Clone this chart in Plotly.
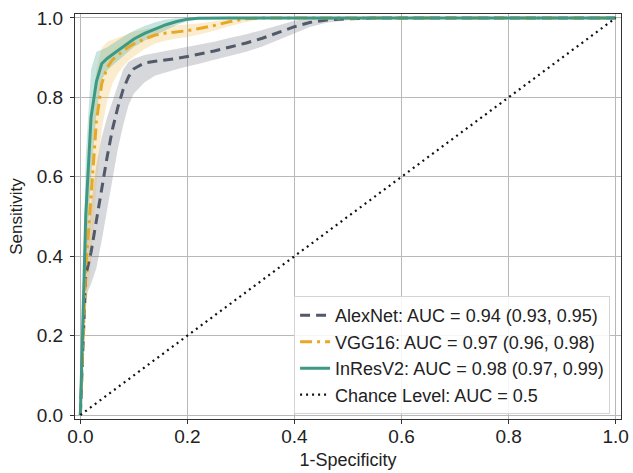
import plotly.graph_objects as go

# False positive rate grid (1-Specificity)
fpr = [0, 0.01, 0.02, 0.03, 0.04, 0.05, 0.06, 0.07, 0.08, 0.09, 0.10, 0.12, 0.14, 0.16,
       0.18, 0.20, 0.22, 0.25, 0.28, 0.31, 0.34, 0.37, 0.40, 0.43, 0.46, 0.50, 0.55, 0.60,
       0.70, 0.80, 0.90, 1.00]

alex_mean = [0, 0.35, 0.41, 0.49, 0.58, 0.65, 0.72, 0.775, 0.82, 0.852, 0.872, 0.887, 0.891,
             0.894, 0.898, 0.903, 0.908, 0.917, 0.927, 0.937, 0.949, 0.963, 0.978, 0.989,
             0.995, 0.998, 1.0, 1.0, 1.0, 1.0, 1.0, 1.0]
alex_upper = [0, 0.42, 0.53, 0.63, 0.70, 0.75, 0.79, 0.83, 0.87, 0.889, 0.897, 0.907, 0.912,
              0.917, 0.921, 0.926, 0.931, 0.94, 0.95, 0.959, 0.97, 0.982, 0.993, 0.999,
              1.0, 1.0, 1.0, 1.0, 1.0, 1.0, 1.0, 1.0]
alex_lower = [0, 0.30, 0.33, 0.37, 0.44, 0.52, 0.60, 0.67, 0.73, 0.78, 0.81, 0.838, 0.855,
              0.864, 0.871, 0.878, 0.884, 0.895, 0.905, 0.915, 0.928, 0.944, 0.962, 0.978,
              0.988, 0.994, 0.998, 1.0, 1.0, 1.0, 1.0, 1.0]

vgg_mean = [0, 0.37, 0.55, 0.74, 0.835, 0.875, 0.895, 0.907, 0.917, 0.927, 0.935, 0.947, 0.957,
            0.962, 0.965, 0.968, 0.973, 0.981, 0.991, 0.998, 1.0, 1.0, 1.0, 1.0, 1.0, 1.0,
            1.0, 1.0, 1.0, 1.0, 1.0, 1.0]
vgg_upper = [0, 0.50, 0.74, 0.87, 0.925, 0.94, 0.945, 0.95, 0.955, 0.96, 0.965, 0.971, 0.976,
             0.979, 0.981, 0.983, 0.986, 0.992, 0.998, 1.0, 1.0, 1.0, 1.0, 1.0, 1.0, 1.0,
             1.0, 1.0, 1.0, 1.0, 1.0, 1.0]
vgg_lower = [0, 0.26, 0.38, 0.58, 0.72, 0.79, 0.835, 0.86, 0.878, 0.892, 0.903, 0.922, 0.936,
             0.943, 0.948, 0.952, 0.958, 0.968, 0.98, 0.99, 0.997, 1.0, 1.0, 1.0, 1.0, 1.0,
             1.0, 1.0, 1.0, 1.0, 1.0, 1.0]

inres_mean = [0, 0.50, 0.75, 0.84, 0.885, 0.898, 0.908, 0.918, 0.929, 0.939, 0.947, 0.961,
              0.973, 0.983, 0.991, 0.997, 0.999, 1.0, 1.0, 1.0, 1.0, 1.0, 1.0, 1.0, 1.0,
              1.0, 1.0, 1.0, 1.0, 1.0, 1.0, 1.0]
inres_upper = [0, 0.65, 0.87, 0.915, 0.92, 0.926, 0.935, 0.944, 0.953, 0.961, 0.968, 0.98,
               0.989, 0.996, 0.999, 1.0, 1.0, 1.0, 1.0, 1.0, 1.0, 1.0, 1.0, 1.0, 1.0,
               1.0, 1.0, 1.0, 1.0, 1.0, 1.0, 1.0]
inres_lower = [0, 0.36, 0.60, 0.76, 0.845, 0.868, 0.88, 0.892, 0.905, 0.917, 0.927, 0.943,
               0.957, 0.97, 0.982, 0.992, 0.997, 1.0, 1.0, 1.0, 1.0, 1.0, 1.0, 1.0, 1.0,
               1.0, 1.0, 1.0, 1.0, 1.0, 1.0, 1.0]

chance_x = [0, 1]
chance_y = [0, 1]

labels = ["AlexNet: AUC = 0.94 (0.93, 0.95)",
          "VGG16: AUC = 0.97 (0.96, 0.98)",
          "InResV2: AUC = 0.98 (0.97, 0.99)",
          "Chance Level: AUC = 0.5"]
ticks = [0, 0.2, 0.4, 0.6, 0.8, 1.0]
tick_text = ["0.0", "0.2", "0.4", "0.6", "0.8", "1.0"]

FONT = "Arial, Liberation Sans, sans-serif"

fig = go.Figure()

bands = [
    (alex_lower, alex_upper, "rgba(120,126,140,0.30)"),
    (vgg_lower, vgg_upper, "rgba(240,185,80,0.28)"),
    (inres_lower, inres_upper, "rgba(70,165,145,0.30)"),
]
for lo, up, col in bands:
    fig.add_trace(go.Scatter(x=fpr, y=lo, mode="lines", line=dict(width=0, color=col),
                             showlegend=False, hoverinfo="skip"))
    fig.add_trace(go.Scatter(x=fpr, y=up, mode="lines", line=dict(width=0, color=col),
                             fill="tonexty", fillcolor=col, showlegend=False,
                             hoverinfo="skip"))

fig.add_trace(go.Scatter(x=fpr, y=alex_mean, mode="lines", name=labels[0],
                         line=dict(color="#525a69", width=3, dash="10px,6px")))
fig.add_trace(go.Scatter(x=fpr, y=vgg_mean, mode="lines", name=labels[1],
                         line=dict(color="#e8a825", width=3, dash="12px,5px,3px,5px")))
fig.add_trace(go.Scatter(x=fpr, y=inres_mean, mode="lines", name=labels[2],
                         line=dict(color="#3d9985", width=3)))
fig.add_trace(go.Scatter(x=chance_x, y=chance_y, mode="lines", name=labels[3],
                         line=dict(color="#111111", width=2.2, dash="2px,4px")))

axis_common = dict(
    showgrid=True, gridcolor="#b8b8b8", gridwidth=1, zeroline=False,
    showline=True, linecolor="#333333", linewidth=1.2, mirror=True,
    ticks="outside", ticklen=4, tickwidth=1, tickcolor="#333333",
    tickvals=ticks, ticktext=tick_text,
    tickfont=dict(family=FONT, size=19, color="#222222"),
    range=[-0.01, 1.01], automargin=False, ticklabeloverflow="allow",
)

fig.update_layout(
    width=633, height=473,
    margin=dict(l=75, r=12, t=14, b=54),
    paper_bgcolor="white", plot_bgcolor="white",
    font=dict(family=FONT, color="#222222"),
    xaxis=dict(axis_common, ticklabelstandoff=-4,
               title=dict(text="1-Specificity", font=dict(family=FONT, size=18), standoff=7)),
    yaxis=dict(axis_common, ticklabelstandoff=3,
               title=dict(text="Sensitivity", font=dict(family=FONT, size=17), standoff=9)),
    legend=dict(x=0.98, y=0.012, xanchor="right", yanchor="bottom",
                traceorder="normal",
                bgcolor="rgba(255,255,255,0.85)", bordercolor="#d4d4d4", borderwidth=1,
                font=dict(family=FONT, size=18, color="#222222"), tracegroupgap=0),
    showlegend=True,
)

fig.write_html("out.html", config={"displayModeBar": False},
               post_script="document.body.style.margin='0px';")
